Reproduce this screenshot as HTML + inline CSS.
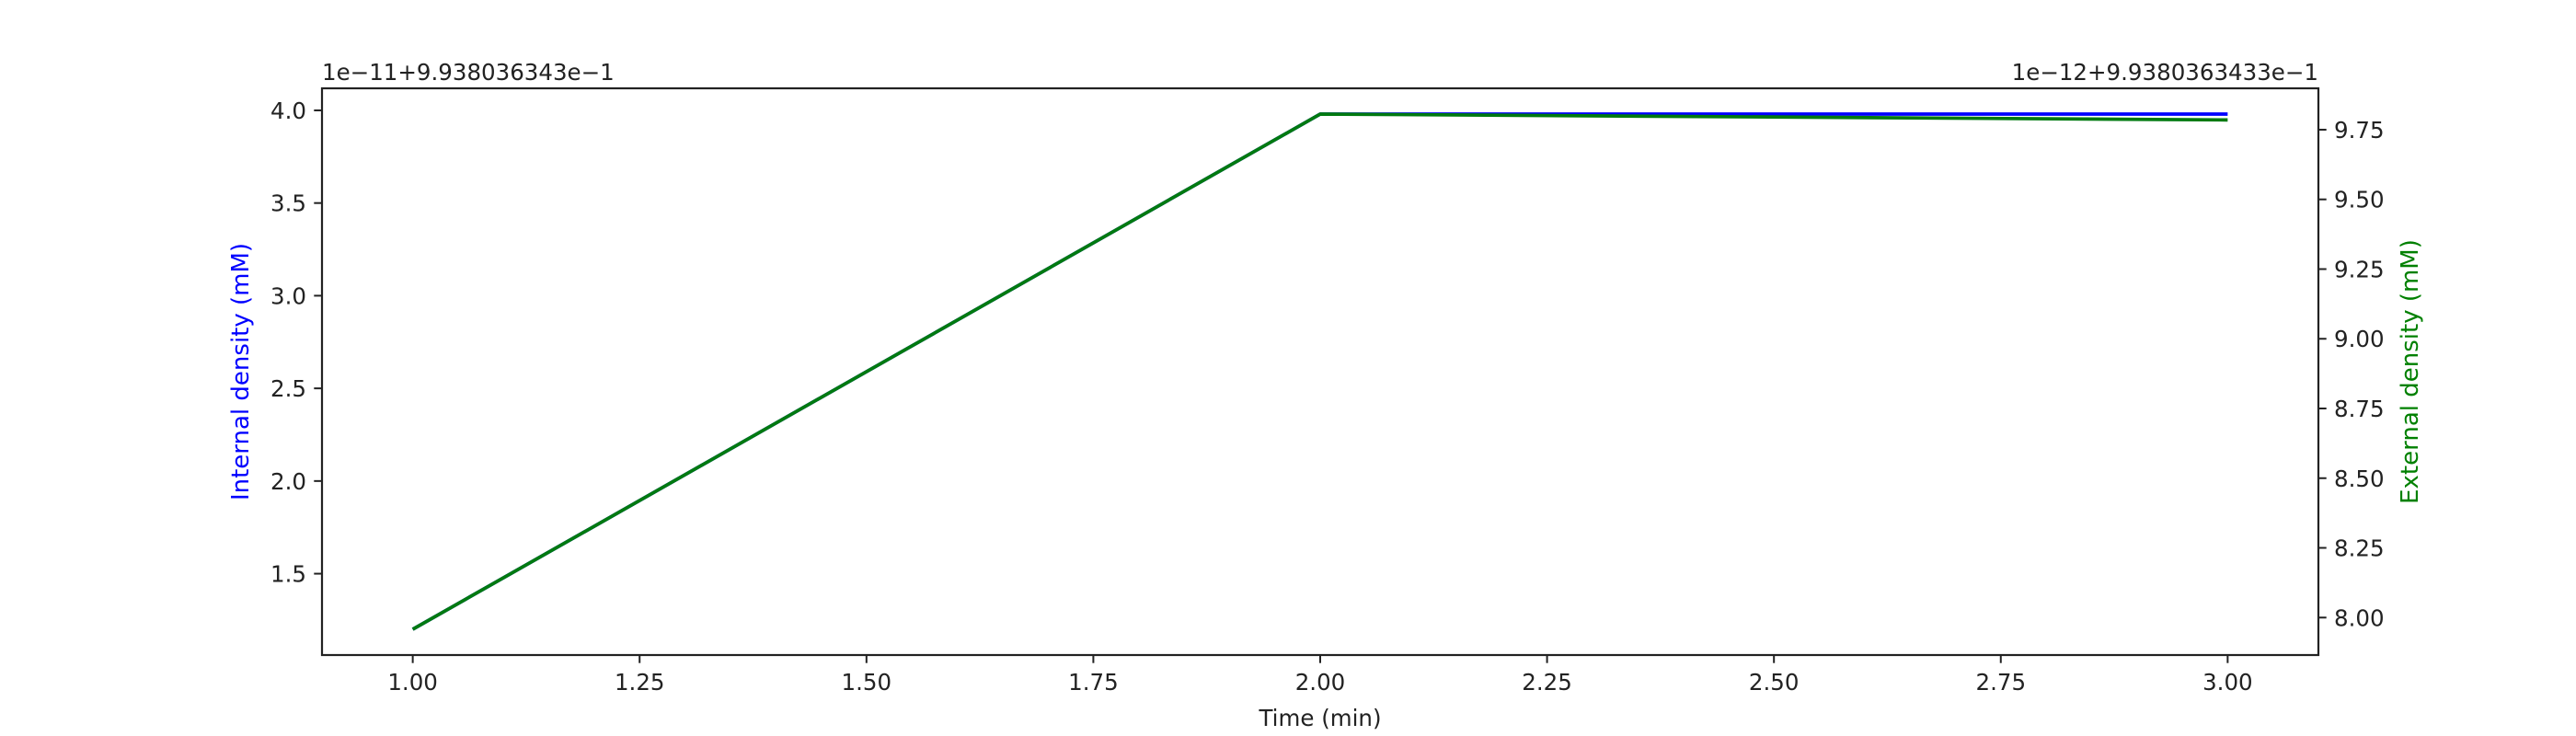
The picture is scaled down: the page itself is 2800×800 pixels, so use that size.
<!DOCTYPE html>
<html><head><meta charset="utf-8"><style>
html,body{margin:0;padding:0;background:#fff;}
svg{display:block;font-family:"DejaVu Sans","Liberation Sans",sans-serif;}
</style></head><body>
<svg id="chart" width="2800" height="800" viewBox="0 0 2800 800">
<rect width="2800" height="800" fill="#fff"/>
<g id="marks"></g>
<g id="axes"></g>
</svg>
<script>
const xValues = [1.0, 2.0, 3.0];
const internalValues = [1.2, 3.98, 3.98];
const externalValues = [7.958, 9.806, 9.785];
const xTicks = [1.0, 1.25, 1.5, 1.75, 2.0, 2.25, 2.5, 2.75, 3.0];
const xTickLabels = ["1.00","1.25","1.50","1.75","2.00","2.25","2.50","2.75","3.00"];
const leftTicks = [1.5, 2.0, 2.5, 3.0, 3.5, 4.0];
const leftTickLabels = ["1.5","2.0","2.5","3.0","3.5","4.0"];
const rightTicks = [8.0, 8.25, 8.5, 8.75, 9.0, 9.25, 9.5, 9.75];
const rightTickLabels = ["8.00","8.25","8.50","8.75","9.00","9.25","9.50","9.75"];

const L=350,R=2520,T=96,B=712;
const NS="http://www.w3.org/2000/svg";
function ext(a){const mn=Math.min(...a),mx=Math.max(...a),m=(mx-mn)*0.05;return [mn-m,mx+m];}
const xr=ext(xValues), lr=ext(internalValues), rr=ext(externalValues);
const xs=v=>L+(v-xr[0])/(xr[1]-xr[0])*(R-L);
const yl=v=>B-(v-lr[0])/(lr[1]-lr[0])*(B-T);
const yr=v=>B-(v-rr[0])/(rr[1]-rr[0])*(B-T);
const marks=document.getElementById('marks'), axes=document.getElementById('axes');
function mk(tag,attrs,parent,text){const e=document.createElementNS(NS,tag);for(const k in attrs)e.setAttribute(k,attrs[k]);if(text!==undefined)e.textContent=text;parent.appendChild(e);return e;}

let p1=mk('polyline',{points:xValues.map((x,i)=>xs(x)+','+yl(internalValues[i])).join(' '),fill:'none',stroke:'#0000ff','stroke-width':3.7,'stroke-linejoin':'round'},marks);


let p2=mk('polyline',{points:xValues.map((x,i)=>xs(x)+','+yr(externalValues[i])).join(' '),fill:'none',stroke:'#007a10','stroke-width':3.7,'stroke-linejoin':'round'},marks);



let fr=mk('rect',{x:L,y:T,width:R-L,height:B-T,fill:'none',stroke:'#222','stroke-width':2.2},axes);


const tc='#222', fs=24.5;
xTicks.forEach((v,i)=>{
  const x=xs(v);
  let t=mk('line',{x1:x,x2:x,y1:B,y2:B+8.7,stroke:tc,'stroke-width':2},axes);
  
  
  let l=mk('text',{x:x,y:B+38,'text-anchor':'middle','font-size':fs,fill:tc},axes,xTickLabels[i]);
  
  
});
leftTicks.forEach((v,i)=>{
  const y=yl(v);
  let t=mk('line',{x1:L-8.7,x2:L,y1:y,y2:y,stroke:tc,'stroke-width':2},axes);
  
  
  let l=mk('text',{x:L-17,y:y+9,'text-anchor':'end','font-size':fs,fill:tc},axes,leftTickLabels[i]);
  
  
});
rightTicks.forEach((v,i)=>{
  const y=yr(v);
  let t=mk('line',{x1:R,x2:R+8.7,y1:y,y2:y,stroke:tc,'stroke-width':2},axes);
  
  
  let l=mk('text',{x:R+17,y:y+9,'text-anchor':'start','font-size':fs,fill:tc},axes,rightTickLabels[i]);
  
  
});
let o1=mk('text',{x:L,y:87,'font-size':fs,fill:tc},axes,'1e\u221211+9.938036343e\u22121');


let o2=mk('text',{x:R,y:87,'text-anchor':'end','font-size':fs,fill:tc},axes,'1e\u221212+9.9380363433e\u22121');


let xl=mk('text',{x:(L+R)/2,y:789,'text-anchor':'middle','font-size':fs,fill:tc},axes,'Time (min)');


let ylab=mk('text',{x:0,y:0,transform:`translate(270,${(T+B)/2}) rotate(-90)`,'text-anchor':'middle','font-size':26,fill:'#0000ff'},axes,'Internal density (mM)');


let yrl=mk('text',{x:0,y:0,transform:`translate(2628,${(T+B)/2}) rotate(-90)`,'text-anchor':'middle','font-size':26,fill:'#008000'},axes,'External density (mM)');


</script>
</body></html>
